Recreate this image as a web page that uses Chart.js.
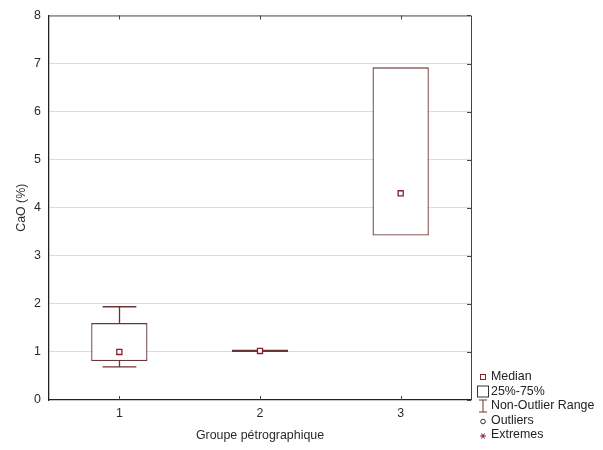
<!DOCTYPE html>
<html>
<head>
<meta charset="utf-8">
<script src="https://cdn.jsdelivr.net/npm/chart.js@4"></script>
<style>
  html, body { margin: 0; padding: 0; background: #fff; }
  #wrap { width: 603px; height: 450px; }
</style>
</head>
<body>
<div id="wrap"><canvas id="chart-box" width="603" height="450"></canvas></div>
<script>
// ─── Données ──────────────────────────────────────
const groupes     = ['1', '2', '3'];
const medianes    = [1.00, 1.02, 4.30];
const q25         = [0.81, 1.00, 3.42];
const q75         = [1.60, 1.05, 6.92];
const minNonOut   = [0.69, 1.00, 3.42];
const maxNonOut   = [1.94, 1.05, 6.92];
const yTicks      = [0, 1, 2, 3, 4, 5, 6, 7, 8];
const legendItems = ['Median', '25%-75%', 'Non-Outlier Range', 'Outliers', 'Extremes'];

const BOX_COLOR = '#6b3535';
const MED_COLOR = '#8b1c2c';
const FONT = 'Liberation Sans, Arial, sans-serif';

// moustaches dessinées avant les boîtes
const whiskerPlugin = {
  id: 'whiskers',
  beforeDatasetsDraw(chart) {
    const { ctx } = chart;
    const y = chart.scales.y;
    const meta = chart.getDatasetMeta(0);
    ctx.save();
    ctx.strokeStyle = BOX_COLOR;
    ctx.lineWidth = 1.3;
    meta.data.forEach((bar, i) => {
      const cx = Math.round(bar.x) + 0.5;
      const half = bar.width * 0.3;
      const yMin = y.getPixelForValue(minNonOut[i]);
      const yMax = y.getPixelForValue(maxNonOut[i]);
      const yLo  = y.getPixelForValue(q25[i]);
      const yHi  = y.getPixelForValue(q75[i]);
      ctx.beginPath();
      if (maxNonOut[i] > q75[i]) {
        ctx.moveTo(cx, yHi); ctx.lineTo(cx, yMax);
        ctx.moveTo(cx - half, yMax); ctx.lineTo(cx + half, yMax);
      }
      if (minNonOut[i] < q25[i]) {
        ctx.moveTo(cx, yLo); ctx.lineTo(cx, yMin);
        ctx.moveTo(cx - half, yMin); ctx.lineTo(cx + half, yMin);
      }
      ctx.stroke();
    });
    ctx.restore();
  },
};

// cadre, graduations intérieures et légende
const framePlugin = {
  id: 'frame',
  afterDraw(chart) {
    const { ctx, chartArea: a } = chart;
    const x = chart.scales.x, y = chart.scales.y;
    ctx.save();
    ctx.strokeStyle = '#444';
    ctx.lineWidth = 1;
    ctx.beginPath();
    ctx.moveTo(a.left, a.top + 0.5); ctx.lineTo(a.right + 0.5, a.top + 0.5);
    ctx.lineTo(a.right + 0.5, a.bottom);
    groupes.forEach((g, i) => {
      const px = Math.round(x.getPixelForValue(i)) + 0.5;
      ctx.moveTo(px, a.top); ctx.lineTo(px, a.top + 4);
      ctx.moveTo(px, a.bottom); ctx.lineTo(px, a.bottom - 4);
    });
    yTicks.forEach(v => {
      const py = Math.round(y.getPixelForValue(v)) + 0.5;
      ctx.moveTo(a.right, py); ctx.lineTo(a.right - 4, py);
    });
    ctx.stroke();

    // légende
    const lx = a.right + 6;
    const tx = a.right + 20;
    let ly = a.bottom - 23;
    ctx.font = '12.4px ' + FONT;
    ctx.textBaseline = 'middle';
    ctx.fillStyle = '#222';
    legendItems.forEach((label, i) => {
      const cy = ly + i * 14.5;
      const cx = lx + 6;
      ctx.beginPath();
      if (i === 0) {
        ctx.strokeStyle = MED_COLOR;
        ctx.strokeRect(cx - 2.5, cy - 2.5, 5, 5);
      } else if (i === 1) {
        ctx.strokeStyle = '#333';
        ctx.strokeRect(cx - 5.5, cy - 5.5, 11, 11);
      } else if (i === 2) {
        ctx.strokeStyle = BOX_COLOR;
        ctx.moveTo(cx - 4, cy - 6); ctx.lineTo(cx + 4, cy - 6);
        ctx.moveTo(cx, cy - 6); ctx.lineTo(cx, cy + 6);
        ctx.moveTo(cx - 4, cy + 6); ctx.lineTo(cx + 4, cy + 6);
        ctx.stroke();
      } else if (i === 3) {
        ctx.strokeStyle = '#333';
        ctx.arc(cx, cy + 1, 2.3, 0, Math.PI * 2);
        ctx.stroke();
      } else {
        ctx.strokeStyle = MED_COLOR;
        for (let k = 0; k < 3; k++) {
          const ang = k * Math.PI / 3;
          ctx.moveTo(cx - 3 * Math.cos(ang), cy + 1 - 3 * Math.sin(ang));
          ctx.lineTo(cx + 3 * Math.cos(ang), cy + 1 + 3 * Math.sin(ang));
        }
        ctx.stroke();
      }
      ctx.fillText(label, tx, cy);
    });
    ctx.restore();
  },
};

const canvas = document.getElementById('chart-box');
new Chart(canvas, {
  type: 'bar',
  data: {
    labels: groupes,
    datasets: [
      {
        label: '25%-75%',
        data: q25.map((lo, i) => [lo, q75[i]]),
        backgroundColor: '#fff',
        borderColor: BOX_COLOR,
        borderWidth: 1.3,
        borderSkipped: false,
        barPercentage: 0.4,
        categoryPercentage: 1,
        order: 2,
      },
      {
        type: 'line',
        label: 'Median',
        data: medianes,
        showLine: false,
        pointStyle: 'rect',
        pointRadius: 3.6,
        pointBorderWidth: 1.3,
        pointBackgroundColor: '#fff',
        pointBorderColor: MED_COLOR,
        order: 1,
      },
    ],
  },
  options: {
    responsive: false,
    animation: false,
    devicePixelRatio: 1,
    layout: { padding: { top: 14, right: 132, left: 0, bottom: 0 } },
    plugins: {
      legend: { display: false },
      tooltip: { enabled: false },
    },
    scales: {
      x: {
        type: 'category',
        offset: true,
        grid: { display: false, drawTicks: false },
        border: { display: true, color: '#222', width: 1.3 },
        ticks: { font: { family: FONT, size: 12.4 }, color: '#2a2a2a', padding: 6 },
        title: {
          display: true,
          text: 'Groupe pétrographique',
          font: { family: FONT, size: 12.4 },
          color: '#2a2a2a',
          padding: { top: 0, bottom: 7 },
        },
        afterFit: s => { s.height = 50; },
      },
      y: {
        min: 0, max: 8,
        afterBuildTicks: s => { s.ticks = yTicks.map(v => ({ value: v })); },
        grid: {
          drawTicks: false,
          color: c => (c.tick && (c.tick.value === 0 || c.tick.value === 8)) ? 'rgba(0,0,0,0)' : '#dcdcdc',
        },
        border: { display: true, color: '#222', width: 1.3 },
        ticks: { font: { family: FONT, size: 12.4 }, color: '#2a2a2a', padding: 8 },
        title: {
          display: true,
          text: 'CaO (%)',
          font: { family: FONT, size: 12.4 },
          color: '#2a2a2a',
          padding: { top: 14, bottom: 0 },
        },
        afterFit: s => { s.width = 49; },
      },
    },
  },
  plugins: [whiskerPlugin, framePlugin],
});
</script>
</body>
</html>
